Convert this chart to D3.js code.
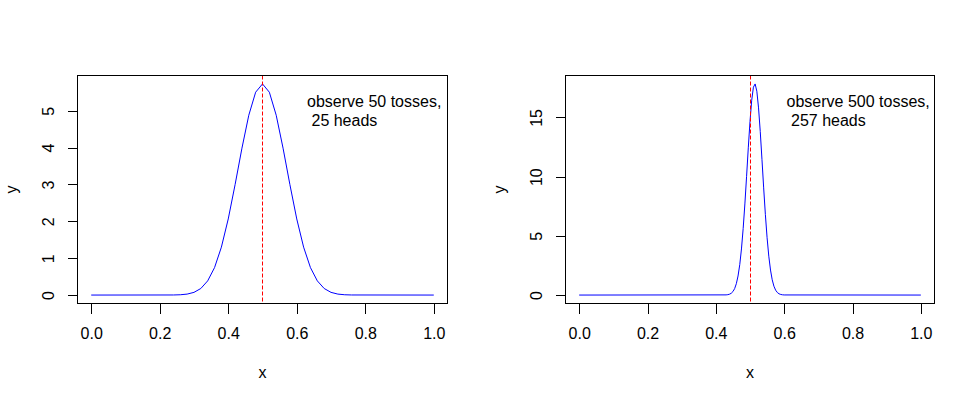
<!DOCTYPE html>
<html>
<head>
<meta charset="utf-8">
<script src="https://cdn.jsdelivr.net/npm/d3@7"></script>
<style>
  body { margin: 0; background: #fff; }
  text { font-family: "Liberation Sans", Arial, sans-serif; }
</style>
</head>
<body>
<div id="chart-container"></div>
<script>
// Two posterior densities for p (share of heads), base-R look.
// left: 50 tosses / 25 heads, right: 500 tosses / 257 heads

const xTicks = [0, 0.2, 0.4, 0.6, 0.8, 1.0];
const trueP = 0.5;

// panel 1 curve
const x1 = [0, 0.24, 0.26, 0.28, 0.30, 0.32, 0.34, 0.36, 0.38, 0.40, 0.42, 0.44, 0.46, 0.48,
  0.50, 0.52, 0.54, 0.56, 0.58, 0.60, 0.62, 0.64, 0.66, 0.68, 0.70, 0.72, 0.74, 0.76, 1];
const y1 = [0, 0.002, 0.008, 0.026, 0.073, 0.178, 0.385, 0.744, 1.299, 2.064, 2.994, 3.984, 4.877, 5.502,
  5.726, 5.502, 4.877, 3.984, 2.994, 2.064, 1.299, 0.744, 0.385, 0.178, 0.073, 0.026, 0.008, 0.002, 0];
const yTicks1 = [0, 1, 2, 3, 4, 5];
const note1 = ["observe 50 tosses,", " 25 heads"];

// panel 2 curve
const x2 = [0, 0.43, 0.435, 0.44, 0.445, 0.45, 0.455, 0.46, 0.465, 0.47, 0.475, 0.48, 0.485, 0.49, 0.495,
  0.50, 0.505, 0.51, 0.515, 0.52, 0.525, 0.53, 0.535, 0.54, 0.545, 0.55, 0.555, 0.56, 0.565, 0.57,
  0.575, 0.58, 0.585, 0.59, 0.595, 0.60, 1];
const y2 = [0, 0.015, 0.033, 0.072, 0.149, 0.292, 0.543, 0.959, 1.610, 2.568, 3.894, 5.614, 7.696, 10.030, 12.435,
  14.670, 16.455, 17.559, 17.831, 17.216, 15.810, 13.805, 11.463, 9.052, 6.793, 4.844, 3.283, 2.112, 1.290, 0.748,
  0.412, 0.215, 0.106, 0.050, 0.022, 0.009, 0];
const yTicks2 = [0, 5, 10, 15];
const note2 = ["observe 500 tosses,", " 257 heads"];

const width = 972;
const height = 398;
const plotTop = 75.5;
const plotBottom = 303.5;

const svg = d3
  .select("#chart-container")
  .append("svg")
  .attr("width", width)
  .attr("height", height);

drawPanel({ left: 77.5, right: 447.5, xs: x1, ys: y1, yTicks: yTicks1, note: note1, noteAt: [0.63, 5.09] });
drawPanel({ left: 565.5, right: 934.5, xs: x2, ys: y2, yTicks: yTicks2, note: note2, noteAt: [0.607, 15.86] });

function drawPanel(p) {
  const xScale = d3.scaleLinear().domain([-0.04, 1.04]).range([p.left, p.right]);
  const yMax = d3.max(p.ys);
  const yScale = d3
    .scaleLinear()
    .domain([-0.04 * yMax, yMax * 1.04])
    .range([plotBottom, plotTop]);

  const g = svg.append("g");

  // x axis
  const gx = g
    .append("g")
    .attr("transform", "translate(0," + plotBottom + ")")
    .call(d3.axisBottom(xScale).tickValues(xTicks).tickSize(10).tickFormat(d3.format(".1f")));
  gx.select(".domain").remove();
  gx.selectAll(".tick line").attr("stroke", "#000").style("shape-rendering", "crispEdges");
  gx.selectAll(".tick text")
    .attr("y", 35.5)
    .attr("dy", null)
    .attr("fill", "#000")
    .attr("font-size", "16px")
    .attr("font-family", "Liberation Sans, Arial, sans-serif");

  // y axis, labels parallel to the axis like R's las=0
  const gy = g
    .append("g")
    .attr("transform", "translate(" + p.left + ",0)")
    .call(d3.axisLeft(yScale).tickValues(p.yTicks).tickSize(10).tickFormat(d3.format("d")));
  gy.select(".domain").remove();
  gy.selectAll(".tick line").attr("stroke", "#000").style("shape-rendering", "crispEdges");
  gy.selectAll(".tick text")
    .attr("x", null)
    .attr("dy", null)
    .attr("text-anchor", "middle")
    .attr("transform", "translate(-23.5,0)rotate(-90)")
    .attr("fill", "#000")
    .attr("font-size", "16px")
    .attr("font-family", "Liberation Sans, Arial, sans-serif");

  // axis lines between first and last tick
  g.append("line")
    .attr("x1", xScale(xTicks[0]) + 0.5)
    .attr("x2", xScale(xTicks[xTicks.length - 1]) + 0.5)
    .attr("y1", plotBottom)
    .attr("y2", plotBottom)
    .attr("stroke", "#000")
    .style("shape-rendering", "crispEdges");

  // titles
  g.append("text")
    .attr("x", (p.left + p.right) / 2)
    .attr("y", 378)
    .attr("text-anchor", "middle")
    .attr("font-size", "16px")
    .text("x");

  g.append("text")
    .attr("transform", "translate(" + (p.left - 61) + "," + (plotTop + plotBottom) / 2 + ")rotate(-90)")
    .attr("text-anchor", "middle")
    .attr("font-size", "16px")
    .text("y");

  // density curve
  const line = d3
    .line()
    .x((d, i) => xScale(p.xs[i]))
    .y(d => yScale(d));

  g.append("path")
    .datum(p.ys)
    .attr("d", line)
    .attr("fill", "none")
    .attr("stroke", "#0000ff")
    .attr("stroke-width", 1);

  // true p
  const xp = Math.floor(xScale(trueP)) + 0.5;
  g.append("path")
    .attr("d", "M" + xp + "," + plotTop + "V" + plotBottom)
    .attr("fill", "none")
    .attr("stroke", "#ff0000")
    .attr("stroke-width", 1)
    .attr("stroke-dasharray", "4,2");

  // annotation
  const note = g
    .append("text")
    .attr("x", xScale(p.noteAt[0]))
    .attr("y", yScale(p.noteAt[1]))
    .attr("font-size", "16px")
    .style("white-space", "pre");
  note
    .selectAll("tspan")
    .data(p.note)
    .enter()
    .append("tspan")
    .attr("x", xScale(p.noteAt[0]))
    .attr("dy", (d, i) => (i === 0 ? 0 : 18.4))
    .text(d => d);

  // box
  g.append("rect")
    .attr("x", p.left)
    .attr("y", plotTop)
    .attr("width", p.right - p.left)
    .attr("height", plotBottom - plotTop)
    .attr("fill", "none")
    .attr("stroke", "#000")
    .style("shape-rendering", "crispEdges");
}
</script>
</body>
</html>
